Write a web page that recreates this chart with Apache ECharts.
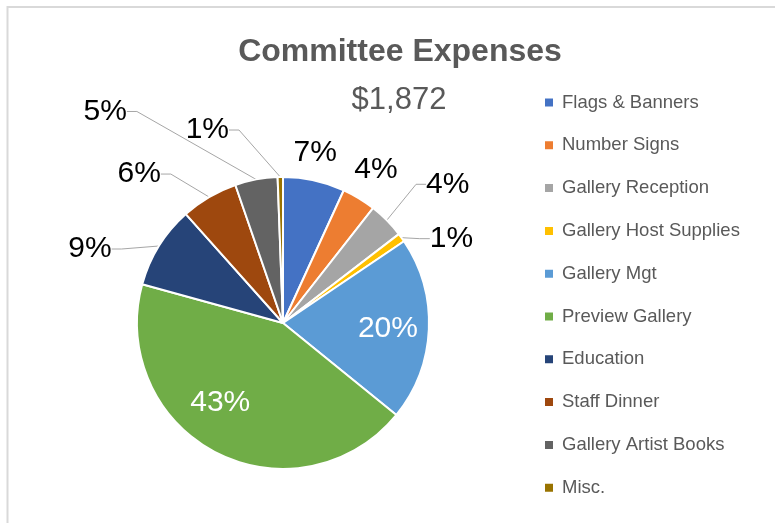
<!DOCTYPE html>
<html>
<head>
<meta charset="utf-8">
<script src="https://cdn.jsdelivr.net/npm/echarts@6/dist/echarts.min.js"></script>
<style>
html,body{margin:0;padding:0;background:#fff;}
#main{width:775px;height:523px;}
</style>
</head>
<body>
<div id="main"></div>
<script>
// ---- data ----
var categories = ['Flags & Banners','Number Signs','Gallery Reception','Gallery Host Supplies','Gallery Mgt','Preview Gallery','Education','Staff Dinner','Gallery Artist Books','Misc.'];
var amounts = [128, 70, 75, 18, 380, 813, 171, 118, 88, 11];
var titleText = 'Committee Expenses';
var totalText = '$1,872';

// ---- styles ----
var colors = ['#4472C4','#ED7D31','#A5A5A5','#FFC000','#5B9BD5','#70AD47','#264478','#9E480E','#636363','#997300'];
var insideIdx = [4, 5];
var noLineIdx = [0, 1];
// label offsets (px) from the default anchor of each label
var labelOffset = [[1,-28],[17,-29],[61,-36],[50,1],[29,2],[-28,12],[-69,3],[-70,-23],[-151,-68],[-73,-47]];

var total = amounts.reduce(function(a,b){return a+b;},0);
var pieData = categories.map(function(name, i){
  var d = {name: name, value: amounts[i], itemStyle: {color: colors[i]}};
  if (insideIdx.indexOf(i) >= 0) {
    d.label = {position: 'inside', color: '#fff'};
  }
  if (noLineIdx.indexOf(i) >= 0) {
    d.labelLine = {lineStyle: {opacity: 0}};
  }
  return d;
});

var chart = echarts.init(document.getElementById('main'));
chart.setOption({
  backgroundColor: '#fff',
  animation: false,
  graphic: [{
    type: 'polyline',
    shape: {points: [[7.5, 523], [7.5, 7], [775, 7]]},
    style: {stroke: '#D9D9D9', lineWidth: 2, fill: null},
    silent: true
  }],
  title: [{
    text: titleText,
    left: 395, top: 31, textAlign: 'center',
    textStyle: {fontFamily: 'Liberation Sans, Arial, sans-serif', fontWeight: 'bold', fontSize: 32, color: '#595959'}
  }, {
    text: totalText,
    left: 394, top: 80, textAlign: 'center',
    textStyle: {fontFamily: 'Liberation Sans, Arial, sans-serif', fontWeight: 'normal', fontSize: 31, color: '#595959'}
  }],
  legend: {
    orient: 'vertical',
    left: 538, top: 87,
    icon: 'rect',
    itemWidth: 10, itemHeight: 10,
    itemGap: 21.8,
    data: categories,
    textStyle: {fontFamily: 'Liberation Sans, Arial, sans-serif', fontSize: 18.5, color: '#595959', lineHeight: 21, padding: [0, 0, 0, 3]}
  },
  series: [{
    type: 'pie',
    center: [283, 323],
    radius: [0, 146],
    startAngle: 90,
    clockwise: true,
    avoidLabelOverlap: false,
    itemStyle: {borderColor: '#fff', borderWidth: 2},
    label: {
      show: true,
      position: 'outside',
      fontFamily: 'Liberation Sans, Arial, sans-serif',
      fontSize: 30,
      color: '#000',
      formatter: function(p){ return Math.round(p.value / total * 100) + '%'; }
    },
    labelLine: {show: true, length: 10, length2: 10, lineStyle: {color: '#A6A6A6', width: 1}},
    labelLayout: function(p){
      var off = labelOffset[p.dataIndex];
      var base;
      if (p.labelLinePoints && insideIdx.indexOf(p.dataIndex) < 0) {
        base = p.labelLinePoints[0];
      } else {
        base = [p.labelRect.x + p.labelRect.width/2, p.labelRect.y + p.labelRect.height/2];
      }
      return {x: base[0] + off[0], y: base[1] + off[1], align: 'center', verticalAlign: 'middle'};
    },
    emphasis: {disabled: true},
    data: pieData
  }]
});
</script>
</body>
</html>
